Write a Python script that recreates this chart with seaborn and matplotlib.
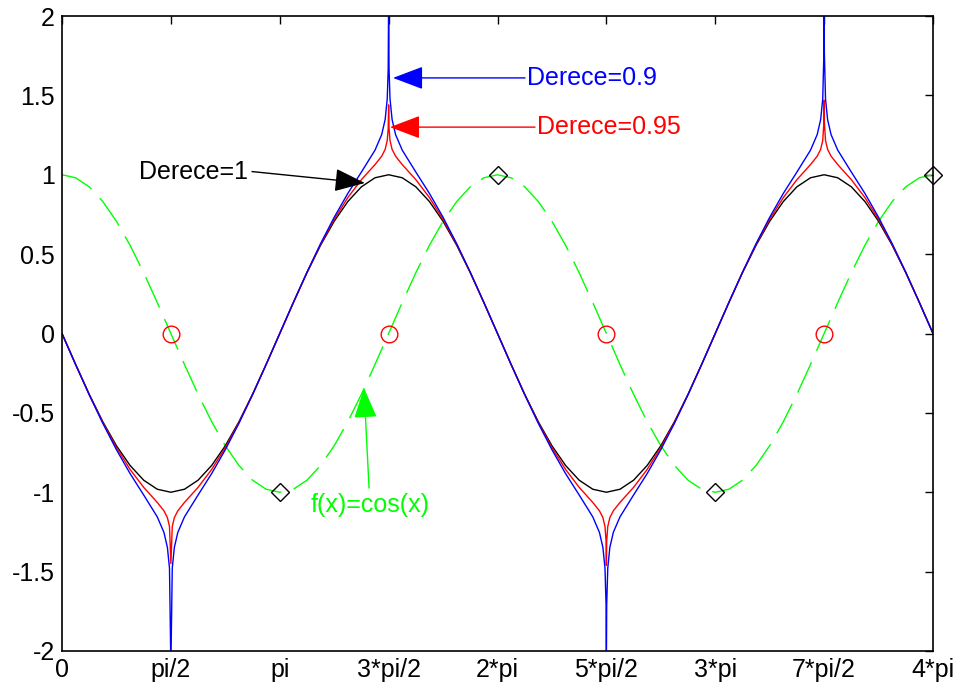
import numpy as np
import pandas as pd
import matplotlib
matplotlib.use("Agg")
import matplotlib.pyplot as plt
import seaborn as sns

# sample points every pi/16 on [0, 4*pi]
x_steps = np.arange(65) * np.pi / 16

# values at the sample points
cos_vals = [1, .981, .924, .831, .707, .556, .383, .195, 0,
            -.195, -.383, -.556, -.707, -.831, -.924, -.981, -1,
            -.981, -.924, -.831, -.707, -.556, -.383, -.195, 0,
            .195, .383, .556, .707, .831, .924, .981, 1,
            .981, .924, .831, .707, .556, .383, .195, 0,
            -.195, -.383, -.556, -.707, -.831, -.924, -.981, -1,
            -.981, -.924, -.831, -.707, -.556, -.383, -.195, 0,
            .195, .383, .556, .707, .831, .924, .981, 1]

derece_1 = [0, -.195, -.383, -.556, -.707, -.831, -.924, -.981, -1,
            -.981, -.924, -.831, -.707, -.556, -.383, -.195, 0,
            .195, .383, .556, .707, .831, .924, .981, 1,
            .981, .924, .831, .707, .556, .383, .195, 0,
            -.195, -.383, -.556, -.707, -.831, -.924, -.981, -1,
            -.981, -.924, -.831, -.707, -.556, -.383, -.195, 0,
            .195, .383, .556, .707, .831, .924, .981, 1,
            .981, .924, .831, .707, .556, .383, .195, 0]

derece_095 = [0, -.195, -.384, -.561, -.719, -.856, -.969, -1.064, -1.45,
              -1.064, -.969, -.856, -.719, -.561, -.384, -.195, 0,
              .195, .384, .561, .719, .856, .969, 1.064, 1.44,
              1.064, .969, .856, .719, .561, .384, .195, 0,
              -.195, -.384, -.561, -.719, -.856, -.969, -1.064, -1.46,
              -1.064, -.969, -.856, -.719, -.561, -.384, -.195, 0,
              .195, .384, .561, .719, .856, .969, 1.064, 1.47,
              1.064, .969, .856, .719, .561, .384, .195, 0]

derece_09 = [0, -.195, -.386, -.566, -.732, -.882, -1.017, -1.155, -2.1,
             -1.155, -1.017, -.882, -.732, -.566, -.386, -.195, 0,
             .195, .386, .566, .732, .882, 1.017, 1.155, 2.1,
             1.155, 1.017, .882, .732, .566, .386, .195, 0,
             -.195, -.386, -.566, -.732, -.882, -1.017, -1.155, -2.1,
             -1.155, -1.017, -.882, -.732, -.566, -.386, -.195, 0,
             .195, .386, .566, .732, .882, 1.017, 1.155, 2.1,
             1.155, 1.017, .882, .732, .566, .386, .195, 0]

# extra points close to the cusps (centre in multiples of pi, offset in rad)
cusp_centers = [0.5, 1.5, 2.5, 3.5]
cusp_offsets = [[0.1, 0.05, 0.02],
                [0.1, 0.05, 0.02, 0.006],
                [0.1, 0.05, 0.02, 0.0047],
                [0.1, 0.05, 0.02, 0.0033]]
cusp_095 = [[-1.117, -1.160, -1.216],
            [1.117, 1.160, 1.216, 1.291],
            [-1.117, -1.160, -1.216, -1.307],
            [1.117, 1.160, 1.216, 1.331]]
cusp_09 = [[-1.253, -1.348, -1.478],
           [1.253, 1.348, 1.478, 1.668],
           [-1.253, -1.348, -1.478, -1.709],
           [1.253, 1.348, 1.478, 1.771]]

circle_x = [0.5, 1.5, 2.5, 3.5]
circle_y = [0, 0, 0, 0]
diamond_x = [1, 2, 3, 4]
diamond_y = [-1, 1, -1, 1]

tick_pos = [0, 0.5, 1, 1.5, 2, 2.5, 3, 3.5, 4]
tick_labels = ['0', 'pi/2', 'pi', '3*pi/2', '2*pi', '5*pi/2', '3*pi', '7*pi/2', '4*pi']
y_ticks = [-2, -1.5, -1, -0.5, 0, 0.5, 1, 1.5, 2]
y_labels = ['-2', '-1.5', '-1', '-0.5', '0', '0.5', '1', '1.5', '2']


def with_cusps(base, cusp_vals):
    rows = list(zip(x_steps, base))
    for c, offs, vals in zip(cusp_centers, cusp_offsets, cusp_vals):
        for o, v in zip(offs, vals):
            rows.append((c * np.pi - o, v))
            rows.append((c * np.pi + o, v))
    return pd.DataFrame(rows, columns=['x', 'y']).sort_values('x')


sns.set_theme(style='white')
plt.rcParams['font.family'] = ['Liberation Sans', 'DejaVu Sans']

fig = plt.figure(figsize=(9.58, 6.91), dpi=100)
ax = fig.add_axes([62 / 958, 40 / 691, 871 / 958, 635 / 691])

GREEN = (0, 1, 0)

sns.lineplot(x=x_steps, y=cos_vals, color=GREEN, lw=1.0, ax=ax,
             linestyle=(0, (24, 9)), estimator=None)
sns.lineplot(x=x_steps, y=derece_1, color='black', lw=1.0, ax=ax, estimator=None)

df_095 = with_cusps(derece_095, cusp_095)
df_09 = with_cusps(derece_09, cusp_09)
sns.lineplot(data=df_095, x='x', y='y', color='red', lw=1.0, ax=ax, estimator=None)
sns.lineplot(data=df_09, x='x', y='y', color='blue', lw=1.0, ax=ax, estimator=None)

ax.plot(np.array(circle_x) * np.pi, circle_y, 'o', ms=12, mfc='none', mec='red', mew=1.0)
ax.plot(np.array(diamond_x) * np.pi, diamond_y, 'D', ms=9, mfc='none', mec='black',
        mew=1.0, clip_on=False, zorder=5)

# annotations
def arrow(tip, start, col):
    ax.annotate('', xy=tip, xytext=start,
                arrowprops=dict(arrowstyle='-|>,head_length=0.95,head_width=0.36',
                                color=col, lw=1.0, mutation_scale=20,
                                shrinkA=0, shrinkB=0))

arrow((4.776, 1.61), (6.68, 1.61), 'blue')
ax.text(6.709, 1.61, 'Derece=0.9', color='blue', fontsize=18, ha='left', va='center')
arrow((4.732, 1.30), (6.824, 1.30), 'red')
ax.text(6.853, 1.30, 'Derece=0.95', color='red', fontsize=18, ha='left', va='center')
arrow((4.37, 0.948), (2.741, 1.02), 'black')
ax.text(2.69, 1.02, 'Derece=1', color='black', fontsize=18, ha='right', va='center')
arrow((4.357, -0.343), (4.43, -0.973), GREEN)
ax.text(4.444, -1.08, 'f(x)=cos(x)', color=GREEN, fontsize=18, ha='center', va='center')

ax.set_xlim(0, 4 * np.pi)
ax.set_ylim(-2, 2)
ax.set_xticks(np.array(tick_pos) * np.pi)
ax.set_xticklabels(tick_labels)
ax.set_yticks(y_ticks)
ax.set_yticklabels(y_labels)
ax.set_xlabel('')
ax.set_ylabel('')
ax.tick_params(direction='in', length=6, width=1, top=True, right=True,
               labelsize=18, colors='black', pad=5)
for s in ax.spines.values():
    s.set_color('black')
    s.set_linewidth(1.2)

fig.savefig('out.png', dpi=100)
